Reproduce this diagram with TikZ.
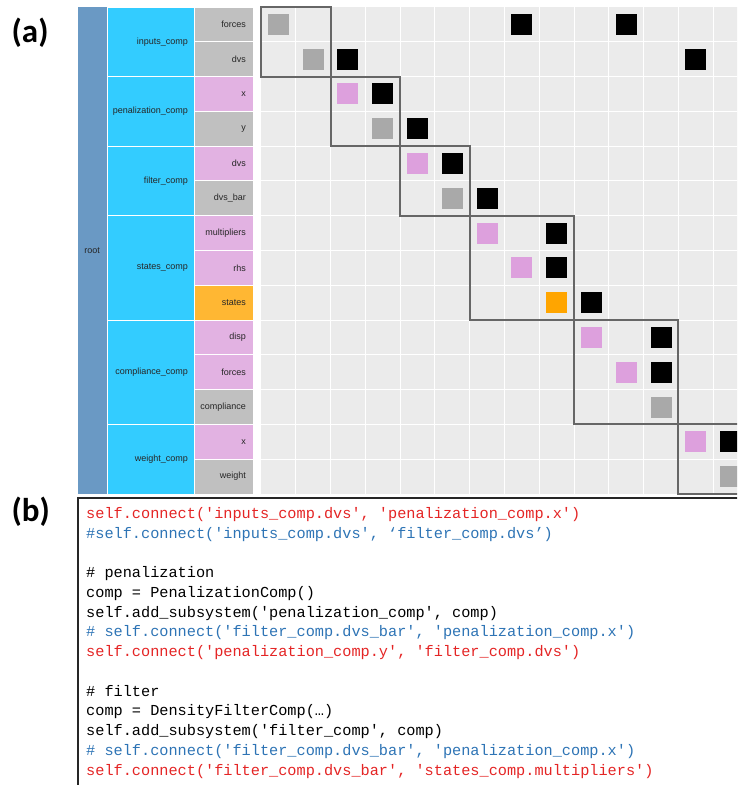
\documentclass[tikz,border=0pt]{standalone}
\usepackage{fontspec}
\setmainfont{Liberation Sans}
\setmonofont{Liberation Mono}
\newfontfamily\tagfont{Carlito}
\usepackage{xcolor}
\usetikzlibrary{positioning}

\definecolor{rootblue}{HTML}{6A99C4}
\definecolor{compcyan}{HTML}{33CCFF}
\definecolor{outgray}{HTML}{C0C0C0}
\definecolor{inpink}{HTML}{E2B2E2}
\definecolor{stateorange}{HTML}{FFB733}
\definecolor{cellbg}{HTML}{EBEBEB}
\definecolor{mkgray}{HTML}{A9A9A9}
\definecolor{mkpink}{HTML}{DDA0DD}
\definecolor{mkorange}{HTML}{FFA500}
\definecolor{blockline}{HTML}{666666}
\definecolor{codered}{HTML}{E42525}
\definecolor{codeblue}{HTML}{2E74B5}

\newcommand{\cellsz}{34.79}

\tikzset{
    cmplabel/.style={anchor=east, inner sep=0pt, text=black!85, font=\fontsize{9}{10}\selectfont},
    blockbox/.style={draw=blockline, line width=2pt},
    codeline/.style={anchor=base west, inner sep=0pt, font=\ttfamily\fontsize{15.25}{18}\selectfont},
    tag/.style={anchor=base west, inner sep=0pt, font=\tagfont\bfseries\fontsize{33}{33}\selectfont}
}

\begin{document}
\begin{tikzpicture}[x=1pt, y=-1pt]
    \useasboundingbox (0,0) rectangle (737,785);
    \clip (0,0) rectangle (737,785);

    \node[tag] (tagA) at (11.5,42.5) {(a)};
    \node[tag] (tagB) at (11.5,521.7) {(b)};

    % Tree labels on the left
    \fill[rootblue] (78,7) rectangle (106.5,494);
    \node[cmplabel, anchor=center] (root) at (92.2,250.5) {root};
    \foreach \a/\b/\name/\id in {0/2/inputs\_comp/c1, 2/4/penalization\_comp/c2, 4/6/filter\_comp/c3,
                                 6/9/states\_comp/c4, 9/12/compliance\_comp/c5, 12/14/weight\_comp/c6} {
        \fill[compcyan] (107.5,7+\a*\cellsz+0.5) rectangle (194,7+\b*\cellsz-0.5);
        \node[cmplabel] (\id) at (188,{7+(\a+\b)*\cellsz/2}) {\name};
    }
    \foreach \i/\name/\col in {0/forces/outgray, 1/dvs/outgray, 2/x/inpink, 3/y/outgray,
                               4/dvs/inpink, 5/dvs\_bar/outgray, 6/multipliers/inpink, 7/rhs/inpink,
                               8/states/stateorange, 9/disp/inpink, 10/forces/inpink,
                               11/compliance/outgray, 12/x/inpink, 13/weight/outgray} {
        \fill[\col] (195,7+\i*\cellsz+0.5) rectangle (252.5,7+\i*\cellsz+\cellsz-0.5);
        \node[cmplabel] (v\i) at (246,{7+(\i+0.5)*\cellsz}) {\name};
    }

    % DSM grid
    \fill[cellbg] (261,7) rectangle (748,494);
    \foreach \k in {1,...,13} {
        \draw[white, line width=1pt] (261+\k*\cellsz,7) -- (261+\k*\cellsz,494);
        \draw[white, line width=1pt] (261,7+\k*\cellsz) -- (748,7+\k*\cellsz);
    }

    % Diagonal entries and connections
    \foreach \r/\c/\col in {0/0/mkgray, 1/1/mkgray, 2/2/mkpink, 3/3/mkgray, 4/4/mkpink, 5/5/mkgray,
                            6/6/mkpink, 7/7/mkpink, 8/8/mkorange, 9/9/mkpink, 10/10/mkpink,
                            11/11/mkgray, 12/12/mkpink, 13/13/mkgray,
                            0/7/black, 0/10/black, 1/2/black, 1/12/black, 2/3/black, 3/4/black,
                            4/5/black, 5/6/black, 6/8/black, 7/8/black, 8/9/black, 9/11/black,
                            10/11/black, 12/13/black} {
        \fill[\col] (261+\c*\cellsz+6.9,7+\r*\cellsz+6.9) rectangle +(21,21);
    }

    % Component blocks
    \foreach \a/\b in {0/2, 2/4, 4/6, 6/9, 9/12, 12/14} {
        \draw[blockbox] (261+\a*\cellsz,7+\a*\cellsz) rectangle (261+\b*\cellsz,7+\b*\cellsz);
    }

    % Code listing
    \draw[black!85, line width=2pt] (77.5,497.5) rectangle (800,850);
    \node[codeline, text=codered] (l1) at (86,518.3) {self.connect('inputs\_comp.dvs', 'penalization\_comp.x')};
    \node[codeline, text=codeblue] (l2) at (86,538.05) {\#self.connect('inputs\_comp.dvs', ‘filter\_comp.dvs’)};
    \node[codeline] (l4) at (86,577.55) {\# penalization};
    \node[codeline] (l5) at (86,597.3) {comp = PenalizationComp()};
    \node[codeline] (l6) at (86,617.05) {self.add\_subsystem('penalization\_comp', comp)};
    \node[codeline, text=codeblue] (l7) at (86,636.8) {\# self.connect('filter\_comp.dvs\_bar', 'penalization\_comp.x')};
    \node[codeline, text=codered] (l8) at (86,656.55) {self.connect('penalization\_comp.y', 'filter\_comp.dvs')};
    \node[codeline] (l10) at (86,696.05) {\# filter};
    \node[codeline] (l11) at (86,715.8) {comp = DensityFilterComp(…)};
    \node[codeline] (l12) at (86,735.55) {self.add\_subsystem('filter\_comp', comp)};
    \node[codeline, text=codeblue] (l13) at (86,755.3) {\# self.connect('filter\_comp.dvs\_bar', 'penalization\_comp.x')};
    \node[codeline, text=codered] (l14) at (86,775.05) {self.connect('filter\_comp.dvs\_bar', 'states\_comp.multipliers')};
\end{tikzpicture}
\end{document}
